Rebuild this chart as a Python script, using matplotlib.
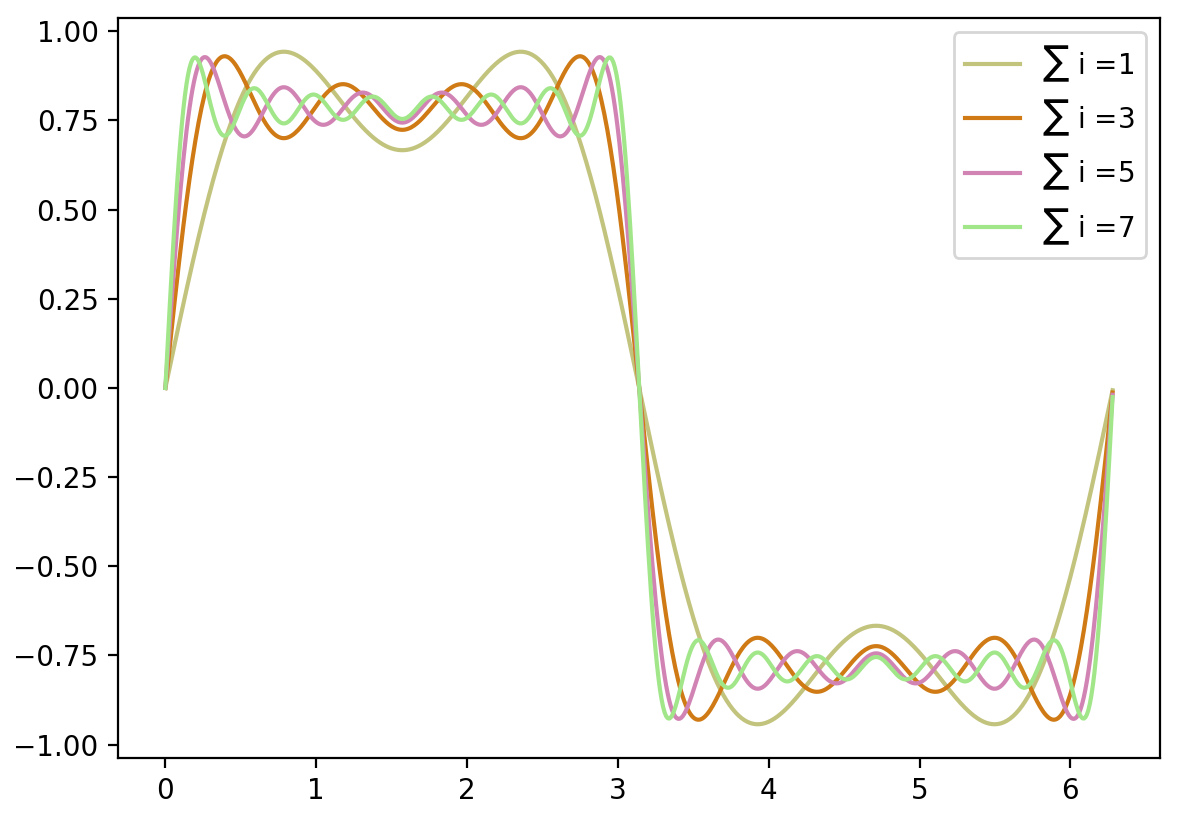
import numpy as np
import matplotlib
matplotlib.use("Agg")
import matplotlib.pyplot as plt

# Partial sums of odd harmonics: sum_{k=0..i} sin((2k+1)x)/(2k+1)
term_counts = [1, 3, 5, 7]
colors = ["#c2c47e", "#cf7a14", "#d184b4", "#a2e68a"]
x = np.arange(0, 2 * np.pi, 0.01)

fig, ax = plt.subplots(figsize=(5.9, 4.11), dpi=200)
for i, c in zip(term_counts, colors):
    y = np.zeros_like(x)
    for k in range(i + 1):
        n = 2 * k + 1
        y += np.sin(n * x) / n
    ax.plot(x, y, color=c, label=r"$\sum$ i =" + str(i))

ax.legend(loc="upper right")
fig.subplots_adjust(left=0.100, right=0.983, top=0.978, bottom=0.078)
fig.savefig("out.png", dpi=200)
